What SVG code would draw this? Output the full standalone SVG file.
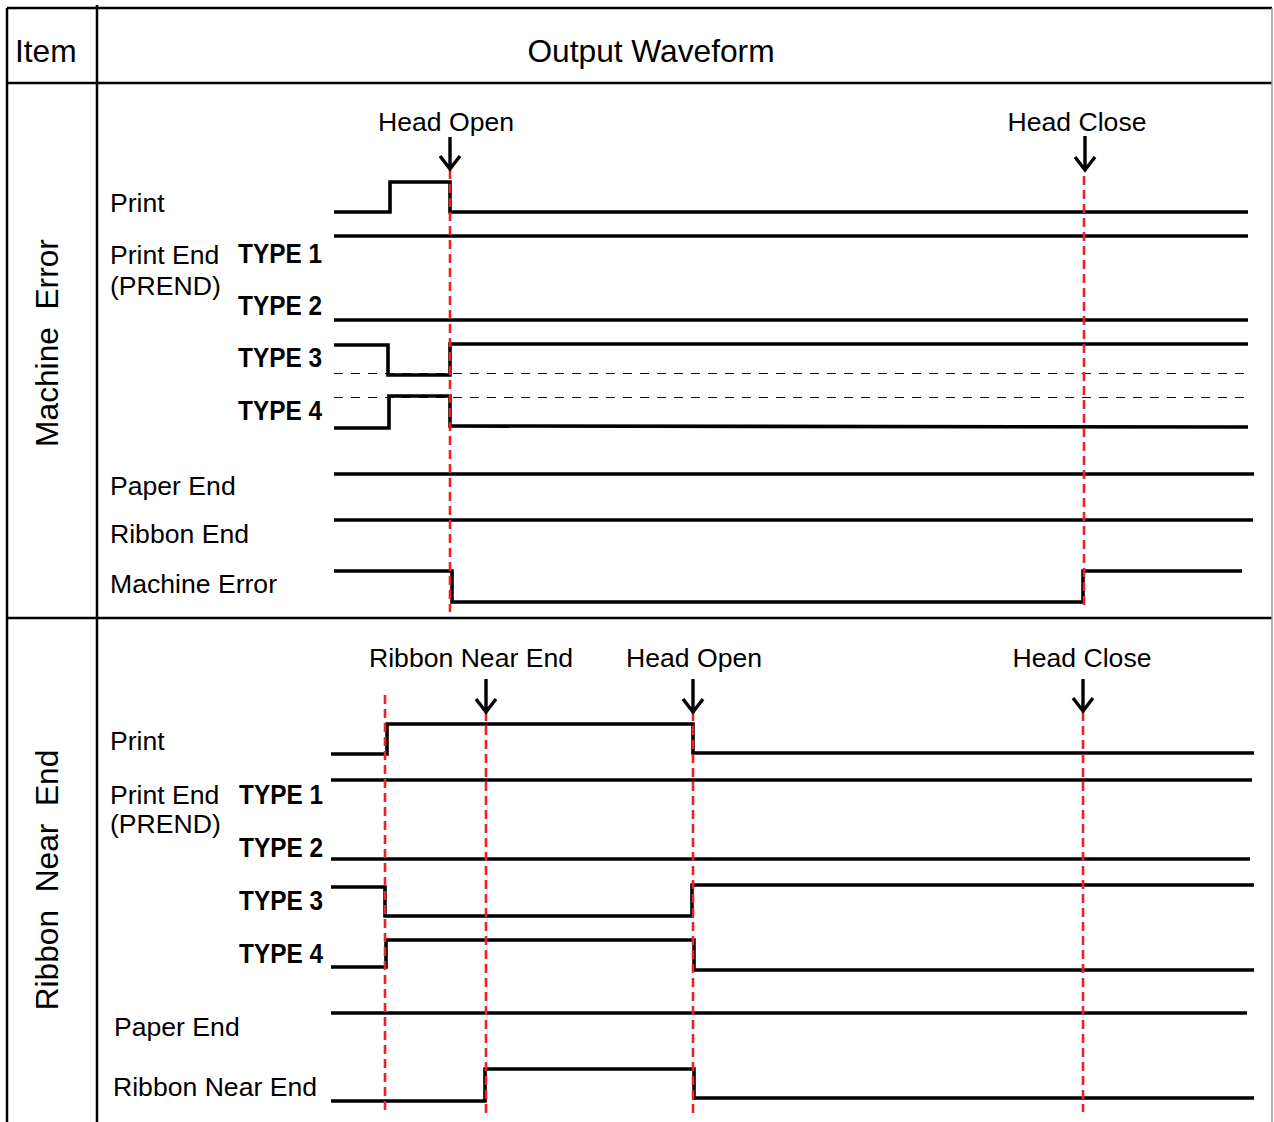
<svg xmlns="http://www.w3.org/2000/svg" width="1274" height="1122" viewBox="0 0 1274 1122">
<style>
  .frame { stroke: #000; stroke-width: 2.5; fill: none; }
  .sig { stroke: #000; stroke-width: 3.6; fill: none; stroke-linejoin: miter; stroke-linecap: butt; }
  .ref { stroke: #111; stroke-width: 1; fill: none; stroke-dasharray: 9 8; }
  .red { stroke: #ee2222; stroke-width: 2.6; fill: none; stroke-dasharray: 9 5; }
  .arrow { stroke: #000; stroke-width: 3.4; fill: none; stroke-linecap: butt; }
  text { font-family: "Liberation Sans", Arial, sans-serif; fill: #000; }
  .hdr { font-size: 31.7px; }
  .lbl { font-size: 26.6px; }
  .typ { font-size: 27.5px; font-weight: bold; }
  .side { font-size: 31.7px; }
</style>
<rect width="1274" height="1122" fill="#fff"/>

<g id="table">
  <line class="frame" x1="7" y1="8" x2="1272" y2="8"/>
  <line class="frame" x1="7" y1="8" x2="7" y2="1122"/>
  <line class="frame" x1="97" y1="5" x2="97" y2="1122"/>
  <line class="frame" x1="7" y1="83" x2="1272" y2="83"/>
  <line class="frame" x1="7" y1="618" x2="1272" y2="618"/>
  <line x1="1272" y1="8" x2="1272" y2="1122" stroke="#999" stroke-width="1.5"/>
  <text class="hdr" x="15" y="62">Item</text>
  <text class="hdr" x="651" y="62" text-anchor="middle">Output Waveform</text>
</g>

<g id="section-machine-error">
  <text class="side" transform="translate(58,343) rotate(-90)" text-anchor="middle" xml:space="preserve">Machine  Error</text>
  <text class="lbl" x="110" y="212">Print</text>
  <text class="lbl" x="110" y="264">Print End</text>
  <text class="lbl" x="110" y="295">(PREND)</text>
  <text class="typ" x="322" y="263" text-anchor="end" textLength="84" lengthAdjust="spacingAndGlyphs">TYPE 1</text>
  <text class="typ" x="322" y="315" text-anchor="end" textLength="84" lengthAdjust="spacingAndGlyphs">TYPE 2</text>
  <text class="typ" x="322" y="367" text-anchor="end" textLength="84" lengthAdjust="spacingAndGlyphs">TYPE 3</text>
  <text class="typ" x="322" y="420" text-anchor="end" textLength="84" lengthAdjust="spacingAndGlyphs">TYPE 4</text>
  <text class="lbl" x="110" y="495">Paper End</text>
  <text class="lbl" x="110" y="543">Ribbon End</text>
  <text class="lbl" x="110" y="593">Machine Error</text>
  <text class="lbl" x="446" y="131" text-anchor="middle">Head Open</text>
  <text class="lbl" x="1077" y="131" text-anchor="middle">Head Close</text>
</g>

<g id="section-ribbon-near-end">
  <text class="side" transform="translate(58,880) rotate(-90)" text-anchor="middle" xml:space="preserve">Ribbon  Near  End</text>
  <text class="lbl" x="110" y="750">Print</text>
  <text class="lbl" x="110" y="804">Print End</text>
  <text class="lbl" x="110" y="833">(PREND)</text>
  <text class="typ" x="323" y="804" text-anchor="end" textLength="84" lengthAdjust="spacingAndGlyphs">TYPE 1</text>
  <text class="typ" x="323" y="857" text-anchor="end" textLength="84" lengthAdjust="spacingAndGlyphs">TYPE 2</text>
  <text class="typ" x="323" y="910" text-anchor="end" textLength="84" lengthAdjust="spacingAndGlyphs">TYPE 3</text>
  <text class="typ" x="323" y="963" text-anchor="end" textLength="84" lengthAdjust="spacingAndGlyphs">TYPE 4</text>
  <text class="lbl" x="114" y="1036">Paper End</text>
  <text class="lbl" x="113" y="1096">Ribbon Near End</text>
  <text class="lbl" x="471" y="667" text-anchor="middle">Ribbon Near End</text>
  <text class="lbl" x="694" y="667" text-anchor="middle">Head Open</text>
  <text class="lbl" x="1082" y="667" text-anchor="middle">Head Close</text>
</g>

<g id="connectors">
  <!-- reference dashed lines -->
  <line class="ref" x1="334" y1="373.5" x2="1250" y2="373.5"/>
  <line class="ref" x1="334" y1="397.5" x2="1250" y2="397.5"/>

  <!-- top section waveforms -->
  <polyline class="sig" points="334,212 390,212 390,182 450,182 450,212 1248,212"/>
  <line class="sig" x1="334" y1="236" x2="1248" y2="236"/>
  <line class="sig" x1="334" y1="320" x2="1248" y2="320"/>
  <polyline class="sig" points="334,345 388,345 388,375 450,375 450,344 1248,344"/>
  <polyline class="sig" points="334,428 389,428 389,396 450,396 450,426 1248,427"/>
  <line class="sig" x1="334" y1="474" x2="1254" y2="474"/>
  <line class="sig" x1="334" y1="520" x2="1253" y2="520"/>
  <polyline class="sig" points="334,571 452,571 452,602 1083,602 1083,571 1242,571"/>

  <!-- bottom section waveforms -->
  <polyline class="sig" points="331,754 387,754 387,724 693,724 693,753 1254,753"/>
  <line class="sig" x1="331" y1="780" x2="1252" y2="780"/>
  <line class="sig" x1="331" y1="859" x2="1250" y2="859"/>
  <polyline class="sig" points="331,887 385,887 385,916 692,916 692,885 1254,885"/>
  <polyline class="sig" points="331,967 386,967 386,940 694,940 694,970 1254,970"/>
  <line class="sig" x1="331" y1="1013" x2="1247" y2="1013"/>
  <polyline class="sig" points="331,1101 485,1101 485,1069 694,1069 694,1098 1254,1098"/>

  <!-- red event markers -->
  <line class="red" x1="450" y1="170" x2="450" y2="612"/>
  <line class="red" x1="1084" y1="176" x2="1084" y2="606"/>
  <line class="red" x1="385" y1="695" x2="385" y2="1114"/>
  <line class="red" x1="486" y1="712" x2="486" y2="1114"/>
  <line class="red" x1="693" y1="712" x2="693" y2="1114"/>
  <line class="red" x1="1083" y1="712" x2="1083" y2="1112"/>

  <!-- arrows -->
  <path class="arrow" d="M450,137 V169 M440,156 L450,169 L460,156"/>
  <path class="arrow" d="M1085,136 V170 M1075,157 L1085,170 L1095,157"/>
  <path class="arrow" d="M486,679 V712 M476,699 L486,712 L496,699"/>
  <path class="arrow" d="M693,679 V712 M683,699 L693,712 L703,699"/>
  <path class="arrow" d="M1083,679 V711 M1073,698 L1083,711 L1093,698"/>
</g>
</svg>
